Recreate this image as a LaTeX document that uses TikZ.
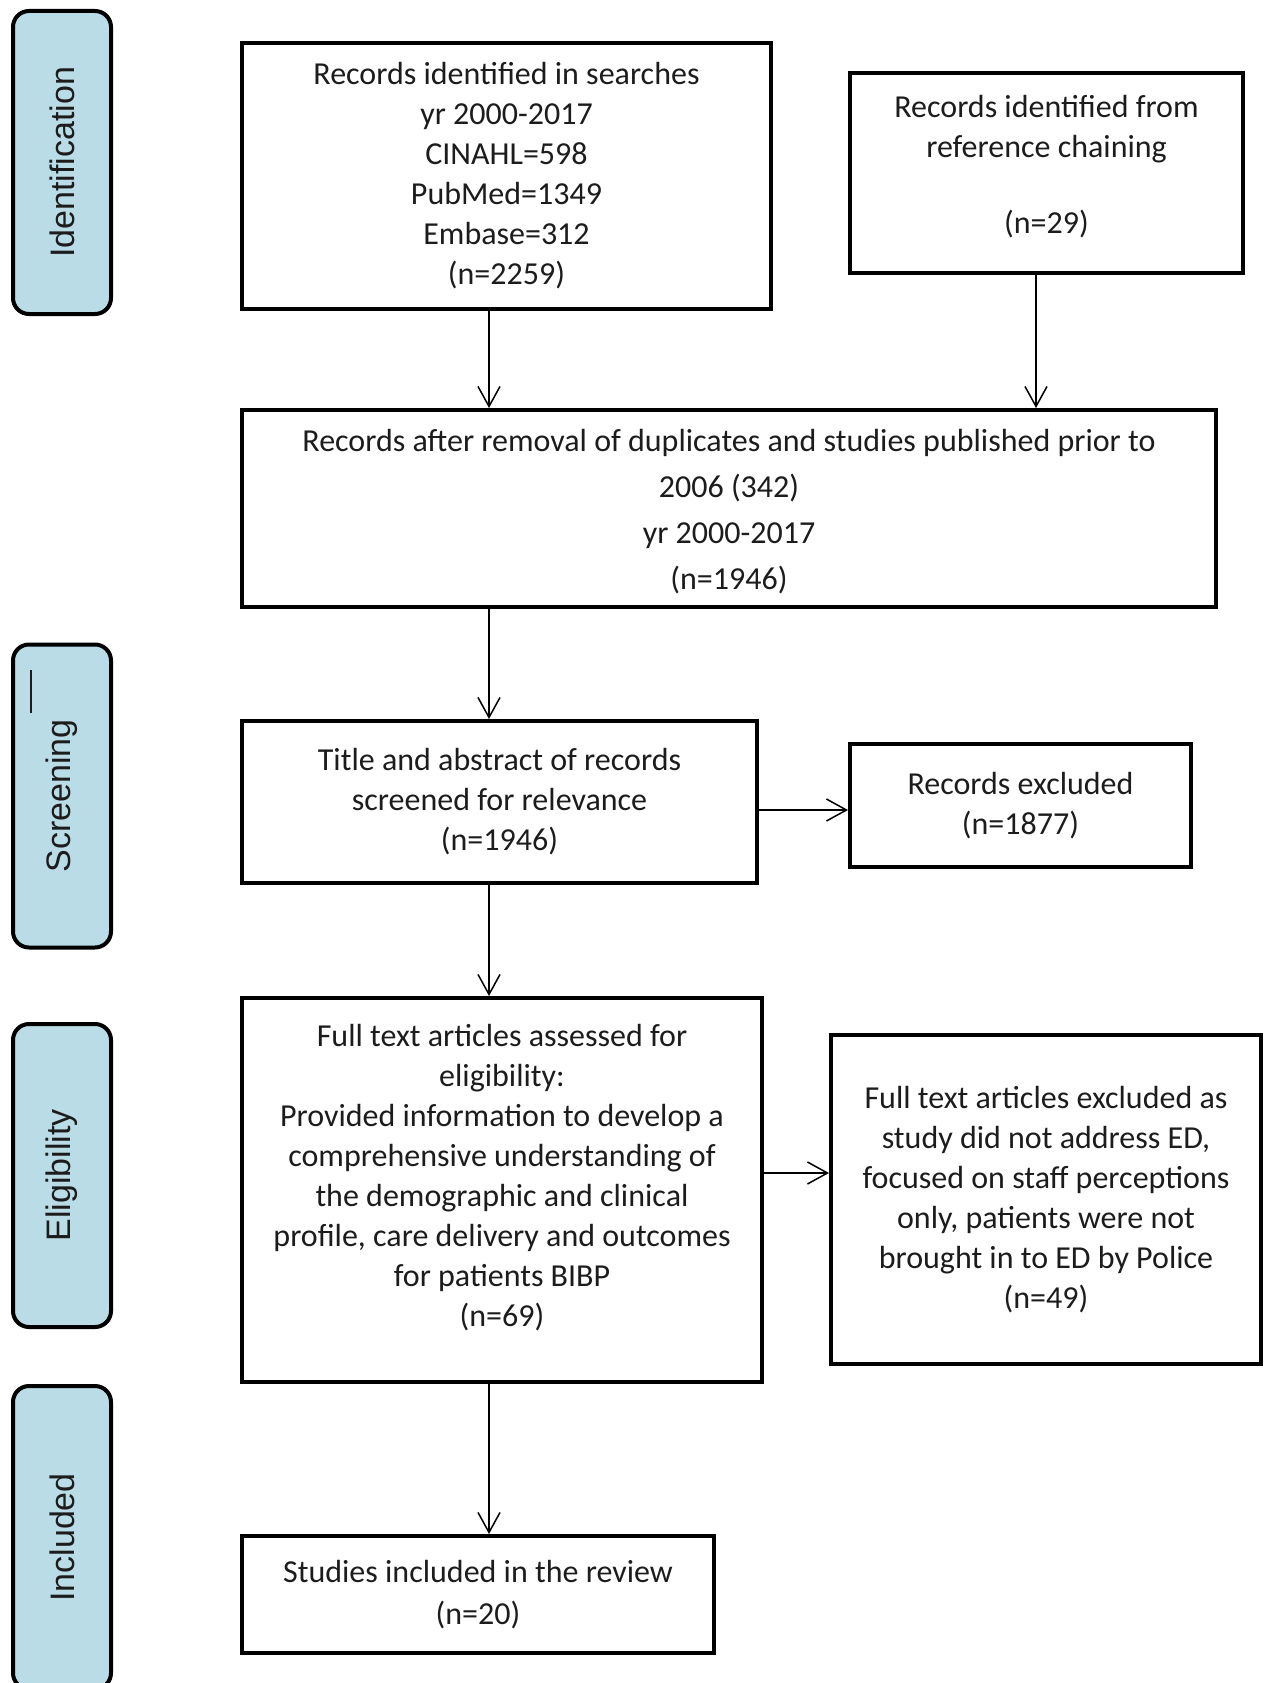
\documentclass[tikz,border=0pt]{standalone}
\usepackage{fontspec}
\setmainfont{Carlito}
\newfontfamily\labfont{Liberation Sans}
\usetikzlibrary{arrows.meta}
\definecolor{labblue}{RGB}{186,220,231}
\definecolor{txt}{RGB}{28,28,28}
\newcommand{\liftlines}[2]{\raisebox{#1}[\height][\depth]{\begin{tabular}{@{}c@{}}#2\end{tabular}}}
\begin{document}
\begin{tikzpicture}[x=1pt,y=-1pt,
  box/.style={draw=black, line width=4pt, fill=white, inner sep=0pt, align=center,
    font=\fontsize{32}{40}\selectfont, text=txt},
  phase/.style={draw=black, line width=4pt, fill=labblue, rounded corners=16pt,
    minimum width=303pt, minimum height=98pt, inner sep=0pt, rotate=90,
    font=\labfont\fontsize{34}{34}\selectfont, text=txt},
  arr/.style={line width=1.5pt, -{Straight Barb[length=20pt,width=22pt,line width=1.5pt]}}
]
\useasboundingbox (0,0) rectangle (1265,1683);
\fill[white] (0,0) rectangle (1265,1683);

% phase labels
\node[phase] (p1) at (62,162.5) {Identification};
\node[phase] (p2) at (62,796) {Screening};
\node[phase] (p3) at (62,1175.5) {Eligibility};
\node[phase] (p4) at (62,1537.5) {Included};
\draw[line width=2pt, color=txt] (31,670) -- (31,713);

% boxes
\node[box, minimum width=529pt, minimum height=266pt] (A) at (506.5,176)
  {Records identified in searches\\yr 2000-2017\\CINAHL=598\\PubMed=1349\\Embase=312\\(n=2259)};
\node[box, align=none, minimum width=393pt, minimum height=200pt] (B) at (1046.5,173)
  {\liftlines{6pt}{Records identified from\\reference chaining\\[36pt](n=29)}};
\node[box, align=none, minimum width=974pt, minimum height=197pt, font=\fontsize{32}{46}\selectfont] (C) at (729,508.5)
  {\liftlines{-3pt}{Records after removal of duplicates and studies published prior to\\2006 (342)\\yr 2000-2017\\(n=1946)}};
\node[box, minimum width=515pt, minimum height=162pt] (D) at (499.5,802)
  {Title and abstract of records\\screened for relevance\\(n=1946)};
\node[box, minimum width=341pt, minimum height=123pt] (E) at (1020.5,805.5)
  {Records excluded\\(n=1877)};
\node[box, align=none, minimum width=520pt, minimum height=384pt] (F) at (502,1190)
  {\liftlines{12pt}{Full text articles assessed for\\eligibility:\\Provided information to develop a\\comprehensive understanding of\\the demographic and clinical\\profile, care delivery and outcomes\\for patients BIBP\\(n=69)}};
\node[box, minimum width=430pt, minimum height=329pt] (G) at (1046,1199.5)
  {Full text articles excluded as\\study did not address ED,\\focused on staff perceptions\\only, patients were not\\brought in to ED by Police\\(n=49)};
\node[box, minimum width=472pt, minimum height=117pt, font=\fontsize{32}{42}\selectfont] (H) at (478,1594.5)
  {Studies included in the review\\(n=20)};

% connectors
\coordinate (ax) at (489,0);
\coordinate (bx) at (1036,0);
\coordinate (dy) at (0,810);
\coordinate (fy) at (0,1173);
\draw[arr] (A.south -| ax) -- (C.north -| ax);
\draw[arr] (B.south -| bx) -- (C.north -| bx);
\draw[arr] (C.south -| ax) -- (D.north -| ax);
\draw[arr] (D.east |- dy) -- (E.west |- dy);
\draw[arr] (D.south -| ax) -- (F.north -| ax);
\draw[arr] (F.east |- fy) -- (G.west |- fy);
\draw[arr] (F.south -| ax) -- (H.north -| ax);
\end{tikzpicture}
\end{document}
